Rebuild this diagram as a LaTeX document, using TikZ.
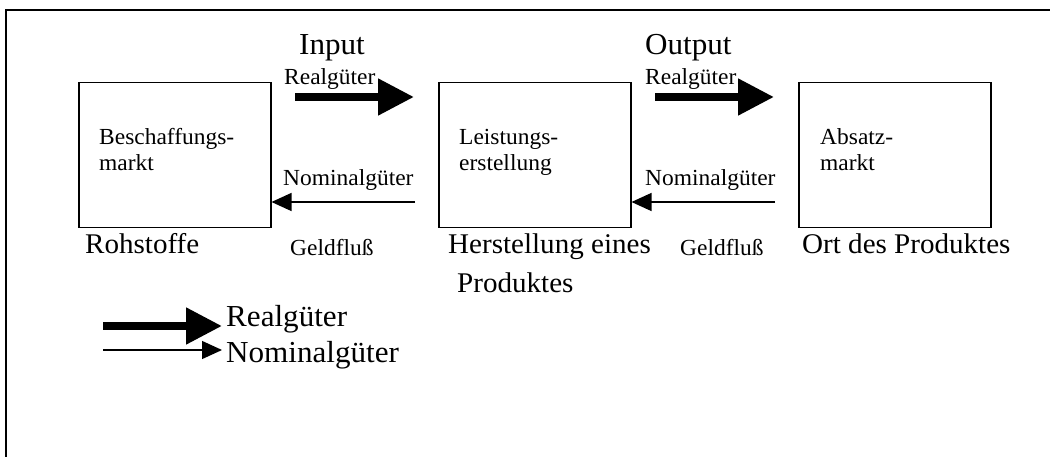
\documentclass[tikz,border=0pt]{standalone}
\usepackage{fontspec}
\usepackage{graphicx}
\setmainfont{Liberation Serif}
\usetikzlibrary{arrows.meta}
\newcommand\wtxt[2]{\scalebox{1.02}[1]{\fontsize{#1}{#1}\selectfont #2}}
\begin{document}
\begin{tikzpicture}[x=1pt,y=-1pt,
  box/.style={draw,line width=1.5pt,minimum width=192pt,minimum height=145pt,inner sep=0pt,anchor=north west},
  txt/.style={inner sep=0pt,anchor=base west},
  thick arrow/.style={line width=8pt,-{Triangle[length=36pt,width=35pt]}},
  thin arrow/.style={line width=1.3pt,-{Triangle[length=20pt,width=18pt]}}]
\useasboundingbox (0,0) rectangle (1050,457);
\draw[line width=1.6pt] (6,457) -- (6,10) -- (1051,10);
% boxes
\node[box] (b1) at (78,82) {};
\node[box] (b2) at (438,82) {};
\node[box] (b3) at (798,82) {};
% box texts
\node[txt] (t1a) at (99,145) {\wtxt{23}{Beschaffungs-}};
\node[txt] (t1b) at (99,171) {\wtxt{23}{markt}};
\node[txt] (t2a) at (459,145) {\wtxt{23}{Leistungs-}};
\node[txt] (t2b) at (459,171) {\wtxt{23}{erstellung}};
\node[txt] (t3a) at (820,145) {\wtxt{23}{Absatz-}};
\node[txt] (t3b) at (820,171) {\wtxt{23}{markt}};
% top labels
\node[txt] (in) at (299,55) {\wtxt{30.5}{Input}};
\node[txt] (out) at (645,55) {\wtxt{30.5}{Output}};
\node[txt] (r1) at (284,85) {\wtxt{23}{Realgüter}};
\node[txt] (r2) at (645,85) {\wtxt{23}{Realgüter}};
\node[txt] (n1) at (283,186) {\wtxt{23}{Nominalgüter}};
\node[txt] (n2) at (645,186) {\wtxt{23}{Nominalgüter}};
% bottom labels
\node[txt] (roh) at (85,254) {\wtxt{28.5}{Rohstoffe}};
\node[txt] (g1) at (290,256) {\wtxt{23}{Geldfluß}};
\node[txt] (her) at (448,254) {\wtxt{28.5}{Herstellung eines}};
\node[txt] (pro) at (457,292) {\wtxt{28.5}{Produktes}};
\node[txt] (g2) at (680,256) {\wtxt{23}{Geldfluß}};
\node[txt] (ort) at (802,254) {\wtxt{28.5}{Ort des Produktes}};
% arrows
\coordinate (a1s) at (295,97);
\coordinate (a1e) at (414,97);
\coordinate (a2s) at (655,97);
\coordinate (a2e) at (774,97);
\draw[thick arrow] (a1s) -- (a1e);
\draw[thick arrow] (a2s) -- (a2e);
\coordinate (m1s) at (415,202);
\coordinate (m2s) at (775,202);
\draw[thin arrow] (m1s) -- (m1s -| b1.east);
\draw[thin arrow] (m2s) -- (m2s -| b2.east);
% legend
\coordinate (l1s) at (103,326);
\coordinate (l1e) at (222,326);
\coordinate (l2s) at (103,350);
\coordinate (l2e) at (222,350);
\draw[thick arrow] (l1s) -- (l1e);
\draw[thin arrow] (l2s) -- (l2e);
\node[txt] (lr) at (226,326) {\wtxt{30.5}{Realgüter}};
\node[txt] (ln) at (226,362) {\wtxt{30.5}{Nominalgüter}};
\end{tikzpicture}
\end{document}
